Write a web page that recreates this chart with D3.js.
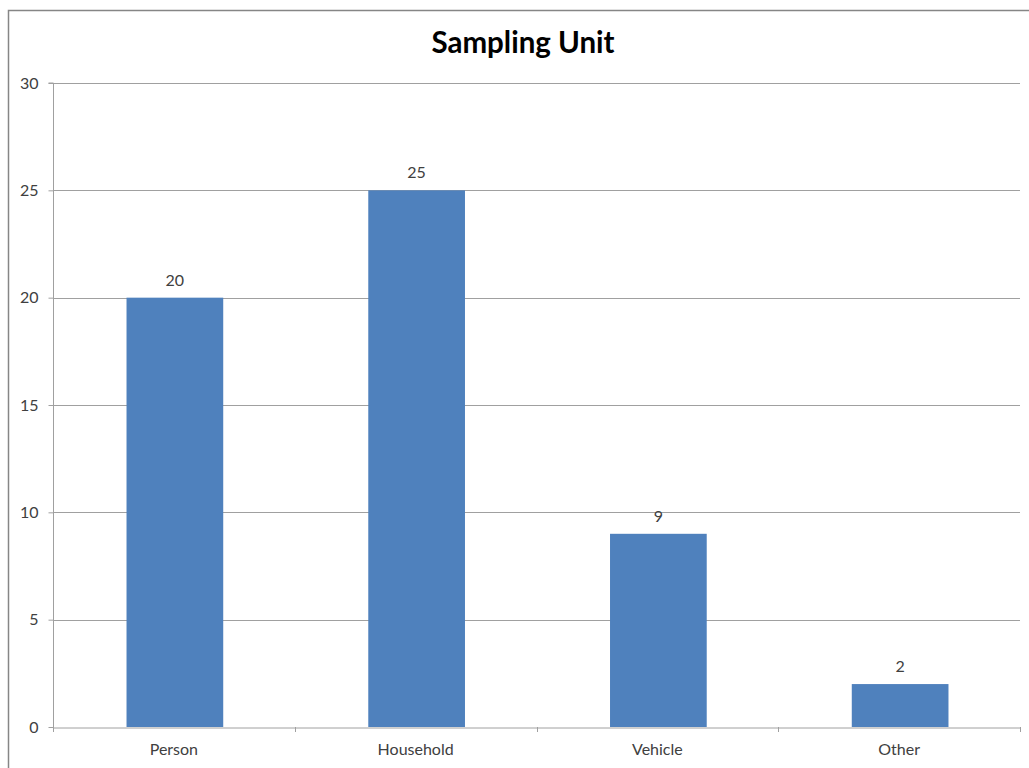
<!DOCTYPE html>
<html><head><meta charset="utf-8">
<script src="https://cdn.jsdelivr.net/npm/d3@7"></script>
<style>body{margin:0;background:#fff}svg{display:block}text{font-family:Lato,"Open Sans",sans-serif}</style>
</head><body>
<script>
const categories = ["Person","Household","Vehicle","Other"];
const values = [20,25,9,2];
const yTicks = [0,5,10,15,20,25,30];
const title = "Sampling Unit";

const W=1029,H=768;
const svg=d3.select("body").append("svg").attr("width",W).attr("height",H);
svg.append("rect").attr("x",8.5).attr("y",10.5).attr("width",1040).attr("height",800).attr("fill","#fff").attr("stroke","#868686").attr("stroke-width",1.5);

const L=53,R=1020,T=83,B=727;
const x=d3.scaleBand().domain(categories).range([L,R]).paddingInner(0.6).paddingOuter(0.3);
const xb=d3.scaleBand().domain(categories).range([L,R]);
const y=d3.scaleLinear().domain([0,30]).range([B,T]);

svg.append("text").attr("x",523).attr("y",53).attr("text-anchor","middle").attr("font-size",29.5).attr("font-weight","bold").attr("fill","#000").text(title);

// gridlines
svg.append("g").selectAll("line").data(yTicks.filter(d=>d>0)).join("line")
 .attr("x1",L).attr("x2",R).attr("y1",d=>Math.round(y(d))+0.5).attr("y2",d=>Math.round(y(d))+0.5)
 .attr("stroke","#a0a0a0").attr("stroke-width",1);

// y axis
const ya=svg.append("g").attr("transform",`translate(${L+0.5},0)`).call(d3.axisLeft(y).tickValues(yTicks).tickSize(5).tickPadding(10));
ya.select(".domain").attr("stroke","#a0a0a0").attr("d",`M-5,${T}H0V${B}`);
ya.selectAll(".tick line").attr("stroke","#a0a0a0");
ya.selectAll(".tick text").attr("font-size",16).attr("fill","#404040").attr("font-family","Lato,'Open Sans',sans-serif");

// bars
svg.append("g").selectAll("rect").data(values).join("rect")
 .attr("x",(d,i)=>x(categories[i])+1).attr("width",x.bandwidth())
 .attr("y",d=>y(d)).attr("height",d=>B-y(d)).attr("fill","#4f81bd");

// data labels
svg.append("g").selectAll("text").data(values).join("text")
 .attr("x",(d,i)=>x(categories[i])+x.bandwidth()/2+1).attr("y",d=>y(d)-12)
 .attr("text-anchor","middle").attr("font-size",16).attr("fill","#404040").text(d=>d);

// x axis
const xa=svg.append("g").attr("transform",`translate(0,${B+0.5})`).call(d3.axisBottom(xb).tickSize(0).tickPadding(16));
xa.select(".domain").attr("stroke","#a0a0a0");
xa.selectAll(".tick text").attr("font-size",16).attr("fill","#404040").attr("font-family","Lato,'Open Sans',sans-serif");
svg.append("g").selectAll("line").data(categories.map(c=>xb(c)).concat([R])).join("line")
 .attr("x1",d=>Math.round(d)+0.5).attr("x2",d=>Math.round(d)+0.5).attr("y1",B).attr("y2",B+5)
 .attr("stroke","#a0a0a0");
</script>
</body></html>
